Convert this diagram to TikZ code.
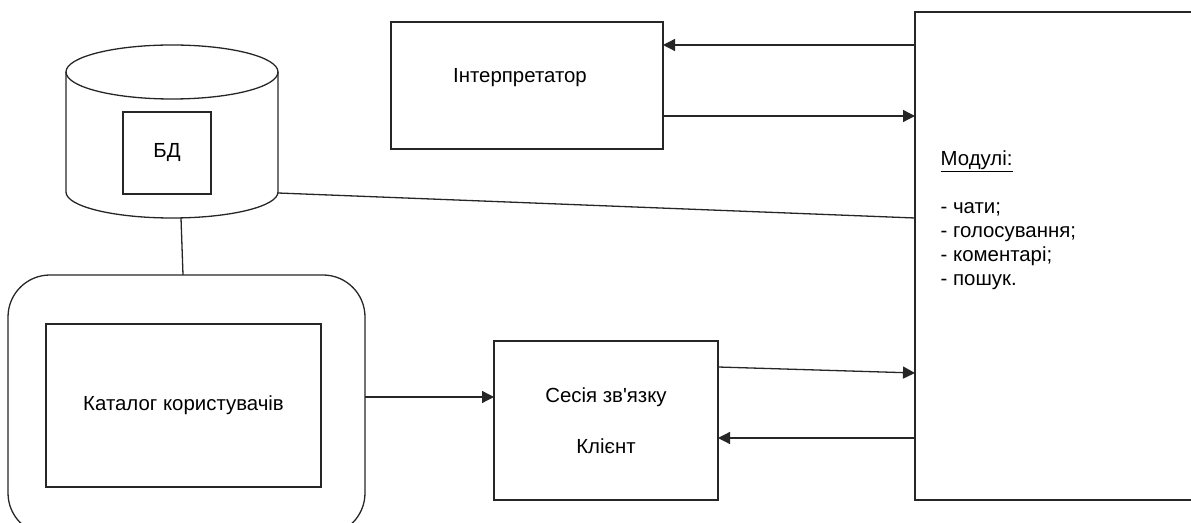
\documentclass[tikz,border=0pt]{standalone}
\usepackage{fontspec}
\setmainfont{Liberation Sans}[Ligatures=TeXOff]
\usetikzlibrary{arrows.meta}
\definecolor{linegray}{HTML}{262626}

\begin{document}
\begin{tikzpicture}[x=1pt, y=1pt, line width=1.3pt,
  every node/.style={font=\fontsize{20.4}{24}\selectfont, text=black},
  box/.style={draw=linegray, rectangle, inner sep=0pt, outer sep=0pt},
  frame/.style={box, rounded corners=42pt},
  link/.style={draw=linegray},
  arr/.style={link, -{Triangle[length=12pt, width=12pt]}}]

\useasboundingbox (0,0) rectangle (1191,522);
\clip (0,0) rectangle (1191,522);

% database cylinder
\draw[link] (66,450) -- (66,330)
  arc[start angle=180, end angle=360, x radius=106, y radius=26] -- (278,450);
\draw[link] (172,450) ellipse[x radius=106, y radius=27];
\coordinate (dbbase) at (181,304);
\coordinate (dbside) at (278,329);
\node[box, minimum width=88pt, minimum height=82pt] (db) at (167,369) {БД};

% user catalogue
\node[frame, minimum width=357pt, minimum height=260pt] (catframe) at (186.5,117) {};
\node[box, minimum width=275pt, minimum height=163pt] (catalog) at (183.5,116.5) {Каталог користувачів};

% interpreter
\node[box, minimum width=272pt, minimum height=127pt] (interp) at (527,436.5) {};
\node (interptext) at (520,444) {Інтерпретатор};

% client session
\node[box, minimum width=224pt, minimum height=159pt, align=center] (sess) at (606,101.5)
  {Сесія зв'язку\\[27pt]Клієнт};

% modules
\node[box, minimum width=285pt, minimum height=488pt] (mod) at (1057.5,266) {};
\node[anchor=north west, align=left, inner sep=0pt] (modtext) at (940,372)
  {\underline{Модулі:}\\[24pt]- чати;\\- голосування;\\- коментарі;\\- пошук.};

% connections
\draw[link] (dbbase) -- (catframe.north -| 183,0);
\draw[link] (dbside) -- (mod.west |- 0,304);
\draw[arr] (mod.west |- 0,477) -- (interp.east |- 0,477);
\draw[arr] (interp.east |- 0,406) -- (mod.west |- 0,406);
\draw[arr] (catframe.east |- 0,125) -- (sess.west |- 0,125);
\draw[arr] (sess.east |- 0,155) -- (mod.west |- 0,149);
\draw[arr] (mod.west |- 0,84) -- (sess.east |- 0,84);
\end{tikzpicture}
\end{document}
